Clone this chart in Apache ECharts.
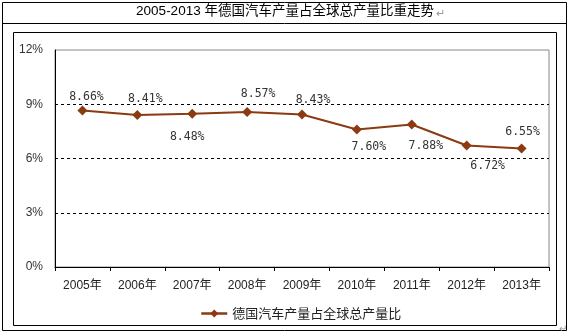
<!DOCTYPE html>
<html><head><meta charset="utf-8">
<script src="https://cdn.jsdelivr.net/npm/echarts@6/dist/echarts.min.js"></script>
<style>html,body{margin:0;padding:0;background:#fff}#c{width:570px;height:336px}</style>
</head><body><div id="c"></div>
<script>
var title = '2005-2013 年德国汽车产量占全球总产量比重走势';
var seriesName = '德国汽车产量占全球总产量比';
var categories = ['2005年','2006年','2007年','2008年','2009年','2010年','2011年','2012年','2013年'];
var shareValues = [8.66, 8.41, 8.48, 8.57, 8.43, 7.60, 7.88, 6.72, 6.55];
var yTicks = [0, 3, 6, 9, 12];
// label placement (style only): offsets from each point, in px
var labelDx = [4, 8, -5, 11, 11, 12, 14, 21, 1];
var labelDy = [-13, -16, 23, -18, -15, 17, 22, 21, -17];

var chart = echarts.init(document.getElementById('c'), null, {renderer:'canvas'});
var lineColor = '#8B3A12';
var data = shareValues.map(function(v, i){
  return {value: v, label: {position: 'inside', offset: [labelDx[i], labelDy[i]]}};
});
chart.setOption({
  animation: false,
  graphic: [
    {type:'rect', shape:{x:2.5,y:2.5,width:564,height:328}, style:{fill:'none', stroke:'#000', lineWidth:1}, z:0},
    {type:'line', shape:{x1:2.5,y1:23.5,x2:566.5,y2:23.5}, style:{stroke:'#000', lineWidth:1}},
    {type:'rect', shape:{x:13.5,y:32.5,width:543,height:293}, style:{fill:'none', stroke:'#000', lineWidth:1}},
    {type:'text', x:285, y:5, style:{text:title, font:'13.5px "Liberation Sans","Noto Sans CJK SC"', fill:'#000', textAlign:'center'}},
    {type:'text', x:436, y:7, style:{text:'↵', font:'11px "Noto Sans CJK SC"', fill:'#999'}},
    {type:'text', x:559, y:323, style:{text:'↵', font:'10px "Noto Sans CJK SC"', fill:'#999'}}
  ],
  grid: {left:55, right:21, top:50, bottom:69, show:true, borderColor:'#888', borderWidth:1, backgroundColor:'transparent'},
  xAxis: {
    type:'category', data:categories, boundaryGap:true,
    axisLine:{lineStyle:{color:'#000', width:1}},
    axisTick:{show:true, length:4, inside:false, lineStyle:{color:'#000'}},
    axisLabel:{color:'#222', fontSize:12, margin:13, fontFamily:'"Liberation Sans","Noto Sans CJK SC"'}
  },
  yAxis: {
    type:'value', min:yTicks[0], max:yTicks[yTicks.length-1], interval:3,
    axisLine:{show:true, lineStyle:{color:'#000', width:1}},
    axisTick:{show:false},
    axisLabel:{color:'#333', fontSize:12, margin:12, formatter:'{value}%', fontFamily:'"Liberation Sans"'},
    splitLine:{show:true, showMaxLine:false, showMinLine:false, lineStyle:{color:'#000', type:[3,3], width:1}}
  },
  legend: {
    bottom: 11, left:195, itemWidth:26, itemHeight:10, itemGap:4,
    textStyle:{fontSize:13, color:'#222', fontFamily:'"Noto Sans CJK SC"'},
    lineStyle:{width:2.5},
    data:[seriesName]
  },
  series: [{
    name: seriesName, type:'line', data:data,
    symbol:'diamond', symbolSize:10,
    lineStyle:{color:lineColor, width:2},
    itemStyle:{color:lineColor},
    label:{show:true, formatter:function(p){return p.value.toFixed(2)+'%';}, color:'#333', fontSize:11.5, fontFamily:'"DejaVu Sans Mono"'}
  }]
});
</script></body></html>
